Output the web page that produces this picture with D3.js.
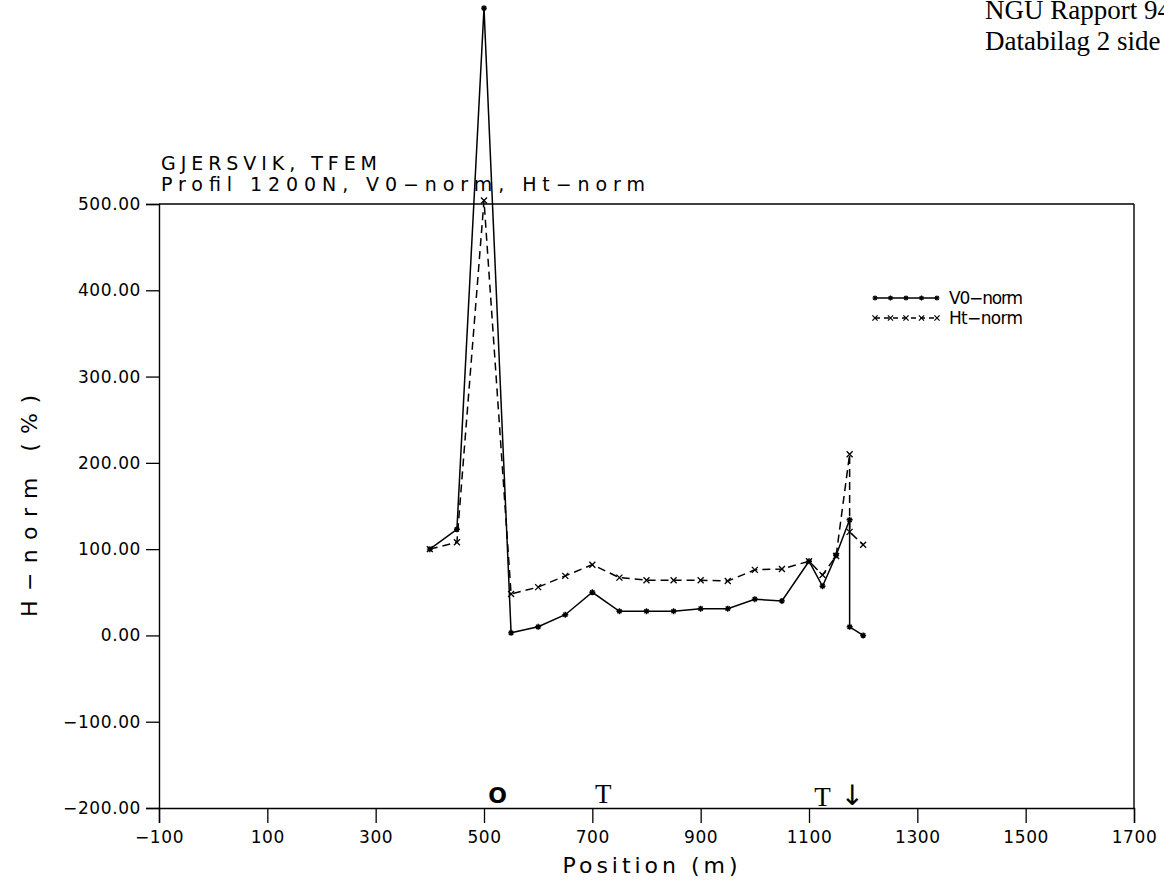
<!DOCTYPE html>
<html>
<head>
<meta charset="utf-8">
<script src="https://cdn.jsdelivr.net/npm/d3@7"></script>
<style>
  body { margin: 0; background: #fff; }
  svg text { fill: #000; }
</style>
</head>
<body>
<svg id="chart" width="1164" height="882"></svg>
<script>
// Profile 1200N, TFEM measurements at Gjersvik
const v0Positions = [400, 450, 500, 550, 600, 650, 700, 750, 800, 850, 900, 950, 1000, 1050, 1100, 1125, 1150, 1175, 1175, 1200];
const v0Values    = [100, 123, 727, 3, 10, 24, 50, 28, 28, 28, 31, 31, 42, 40, 86, 57, 93, 134, 10, 0];
const htPositions = [400, 450, 500, 550, 600, 650, 700, 750, 800, 850, 900, 950, 1000, 1050, 1100, 1125, 1150, 1175, 1175, 1200];
const htValues    = [100, 108, 504, 48, 56, 69, 82, 67, 64, 64, 64, 63, 76, 77, 86, 70, 92, 210, 120, 105];

const xTickValues = [-100, 100, 300, 500, 700, 900, 1100, 1300, 1500, 1700];
const yTickValues = [-200, -100, 0, 100, 200, 300, 400, 500];

// Geological markers along the profile
const markerPositions = [525, 720, 1125, 1180];
const markerLabels    = ["O", "T", "T", "\u2193"];

const titleLines = ["GJERSVIK, TFEM", "Profil 1200N, V0\u2212norm, Ht\u2212norm"];
const seriesNames = ["V0\u2212norm", "Ht\u2212norm"];
const headerLines = ["NGU Rapport 94.", "Databilag 2 side"];

const svg = d3.select("#chart");
const font = "'DejaVu Sans', sans-serif";

const x = d3.scaleLinear().domain([-100, 1700]).range([159, 1134]);
const y = d3.scaleLinear().domain([-200, 500]).range([808, 204]);

// Report header (top right)
svg.selectAll("text.header").data(headerLines).join("text")
  .attr("class", "header")
  .attr("x", 985)
  .attr("y", (d, i) => 19 + i * 31)
  .attr("font-family", "'Liberation Serif', 'Times New Roman', serif")
  .attr("font-size", 27)
  .text(d => d);

// Title
svg.selectAll("text.title").data(titleLines).join("text")
  .attr("class", "title")
  .attr("x", 161)
  .attr("y", (d, i) => 170 + i * 21)
  .attr("font-family", font)
  .attr("font-size", 19)
  .attr("textLength", (d, i) => i === 0 ? 216 : 484)
  .attr("lengthAdjust", "spacing")
  .text(d => d);

// Frame: top and right borders
const g = svg.append("g").attr("fill", "none").attr("stroke", "#000").attr("stroke-width", 1.4);
g.append("line").attr("x1", x(-100)).attr("x2", x(1700)).attr("y1", y(500)).attr("y2", y(500));
g.append("line").attr("x1", x(1700)).attr("x2", x(1700)).attr("y1", y(500)).attr("y2", y(-200));

// Bottom axis: minor ticks every 25 m, major every 200 m
const xAxisG = svg.append("g").attr("transform", `translate(0,${y(-200)})`);
xAxisG.call(d3.axisBottom(x).tickValues(d3.range(-100, 1701, 25)).tickSize(7).tickFormat(""))
  .call(a => a.select(".domain").attr("stroke-width", 1.4));
xAxisG.call(d3.axisBottom(x).tickValues(xTickValues).tickSize(15).tickPadding(8)
    .tickFormat(d3.format("d")))
  .call(a => a.selectAll(".domain").attr("stroke-width", 1.4));
xAxisG.selectAll(".tick line").attr("stroke-width", 1.3);
xAxisG.selectAll(".tick text")
  .attr("font-family", font).attr("font-size", 17).attr("letter-spacing", 0.6)
  .attr("fill", "#000");

// Left axis: minor ticks every 25 %, major every 100 %
const yAxisG = svg.append("g").attr("transform", `translate(${x(-100)},0)`);
yAxisG.call(d3.axisLeft(y).tickValues(d3.range(-200, 501, 25)).tickSize(7).tickFormat(""))
  .call(a => a.select(".domain").attr("stroke-width", 1.4));
yAxisG.call(d3.axisLeft(y).tickValues(yTickValues).tickSize(13).tickPadding(5)
    .tickFormat(d3.format(".2f")))
  .call(a => a.selectAll(".domain").attr("stroke-width", 1.4));
yAxisG.selectAll(".tick line").attr("stroke-width", 1.3);
yAxisG.selectAll(".tick text")
  .attr("font-family", font).attr("font-size", 17).attr("letter-spacing", 0.6)
  .attr("fill", "#000");

// Axis titles
svg.append("text")
  .attr("x", 650).attr("y", 873)
  .attr("text-anchor", "middle")
  .attr("font-family", font).attr("font-size", 22)
  .attr("textLength", 175).attr("lengthAdjust", "spacing")
  .text("Position  (m)");

svg.append("text")
  .attr("transform", "translate(37,506) rotate(-90)")
  .attr("text-anchor", "middle")
  .attr("font-family", font).attr("font-size", 22)
  .attr("textLength", 222).attr("lengthAdjust", "spacing")
  .text("H\u2212norm  (%)");

// Series
const v0Data = v0Positions.map((p, i) => [p, v0Values[i]]);
const htData = htPositions.map((p, i) => [p, htValues[i]]);
const line = d3.line().x(d => x(d[0])).y(d => y(d[1]));

svg.append("path").datum(v0Data)
  .attr("d", line).attr("fill", "none").attr("stroke", "#000").attr("stroke-width", 1.5);
svg.append("path").datum(htData)
  .attr("d", line).attr("fill", "none").attr("stroke", "#000").attr("stroke-width", 1.5)
  .attr("stroke-dasharray", "8,5");

// Point symbols: star for V0, cross for Ht
const star = r => `M${-r},0L${r},0M0,${-r}L0,${r}M${-r*0.7},${-r*0.7}L${r*0.7},${r*0.7}M${-r*0.7},${r*0.7}L${r*0.7},${-r*0.7}`;
const cross = r => `M${-r},${-r}L${r},${r}M${-r},${r}L${r},${-r}`;

svg.append("g").selectAll("path").data(v0Data).join("path")
  .attr("transform", d => `translate(${x(d[0])},${y(d[1])})`)
  .attr("d", star(3)).attr("stroke", "#000").attr("stroke-width", 1.4).attr("fill", "none");
svg.append("g").selectAll("path").data(htData).join("path")
  .attr("transform", d => `translate(${x(d[0])},${y(d[1])})`)
  .attr("d", cross(3)).attr("stroke", "#000").attr("stroke-width", 1.3).attr("fill", "none");

// Legend
const legend = svg.append("g").attr("transform", "translate(875,298)");
const legendSteps = d3.range(0, 5).map(i => i * 15.5);
const styles = [{dash: null, sym: star(2.6)}, {dash: "5,4", sym: cross(2.6)}];
seriesNames.forEach((name, i) => {
  const row = legend.append("g").attr("transform", `translate(0,${i * 20})`);
  row.append("line").attr("x1", 0).attr("x2", 62).attr("y1", 0).attr("y2", 0)
    .attr("stroke", "#000").attr("stroke-width", 1.3)
    .attr("stroke-dasharray", styles[i].dash);
  row.selectAll("path").data(legendSteps).join("path")
    .attr("transform", d => `translate(${d},0)`)
    .attr("d", styles[i].sym).attr("stroke", "#000").attr("stroke-width", 1.2).attr("fill", "none");
  row.append("text").attr("x", 74).attr("y", 6)
    .attr("font-family", font).attr("font-size", 17)
    .attr("textLength", 74).attr("lengthAdjust", "spacing")
    .text(name);
});

// Geological markers above the position axis
svg.append("g").selectAll("text").data(markerPositions).join("text")
  .attr("x", d => x(d))
  .attr("y", (d, i) => i === 3 ? 805 : (i < 2 ? 803 : 806))
  .attr("text-anchor", "middle")
  .attr("font-family", (d, i) => i === 0 || i === 3 ? font : "'Liberation Serif', 'Times New Roman', serif")
  .attr("font-size", (d, i) => i === 0 ? 22 : (i === 3 ? 28 : 27))
  .attr("font-weight", (d, i) => i === 0 ? "bold" : "normal")
  .text((d, i) => markerLabels[i]);
</script>
</body>
</html>
